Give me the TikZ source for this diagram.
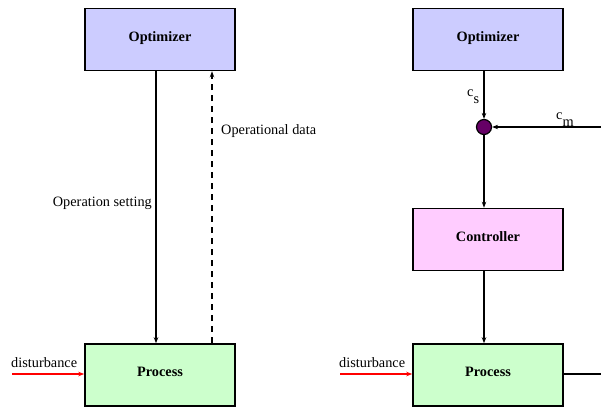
\documentclass[tikz,border=0pt]{standalone}
\usepackage{fontspec}
\setmainfont{Liberation Serif}
\usetikzlibrary{arrows.meta}
\definecolor{optfill}{HTML}{CCCCFF}
\definecolor{ctrlfill}{HTML}{FFCCFF}
\definecolor{procfill}{HTML}{CCFFCC}
\definecolor{junfill}{HTML}{660066}
\newcommand{\blocktext}[1]{\raisebox{5.5pt}{#1}}
\begin{document}
\begin{tikzpicture}[x=1pt,y=-1pt,
  blockbox/.style={draw=black,line width=1.6pt,minimum width=150pt,minimum height=62pt,
    font=\fontsize{14.3}{16}\selectfont\bfseries,inner sep=0pt},
  lbl/.style={font=\fontsize{14.3}{16}\selectfont,inner sep=1pt},
  arr/.style={line width=1.2pt,-{Stealth[length=6pt,width=4.5pt]}},
  plain/.style={line width=1.2pt},
  distarr/.style={line width=1.2pt,red,-{Stealth[length=6pt,width=4.5pt]}}]
\useasboundingbox (0,0) rectangle (601,407);

% left loop: optimizer above process
\node[blockbox,fill=optfill] (optL) at (160,39.5) {\blocktext{Optimizer}};
\node[blockbox,fill=procfill] (procL) at (160,375) {\blocktext{Process}};
\coordinate (setX) at (156,0);
\coordinate (datX) at (212,0);
\draw[arr] (optL.south -| setX) -- (procL.north -| setX);
\draw[arr,dashed,dash pattern=on 6pt off 5pt] (procL.north -| datX) -- (optL.south -| datX);
\node[lbl,anchor=east] (setlbl) at (153,203) {Operation setting};
\node[lbl,anchor=west] (datlbl) at (220,131) {Operational data};
\coordinate (dinL) at (12,374);
\draw[distarr] (dinL) -- (procL.west |- dinL);
\node[lbl,anchor=south west] (distL) at (10,369) {disturbance};

% right loop: optimizer, summing junction, controller, process
\node[blockbox,fill=optfill] (optR) at (488,39.5) {\blocktext{Optimizer}};
\node[circle,draw=black,line width=1.2pt,fill=junfill,minimum size=15pt,inner sep=0pt] (jun) at (484,127) {};
\node[blockbox,fill=ctrlfill] (ctrl) at (488,239.5) {\blocktext{Controller}};
\node[blockbox,fill=procfill] (procR) at (488,375) {\blocktext{Process}};
\draw[arr] (optR.south -| jun) -- (jun.north);
\draw[arr] (jun.south) -- (ctrl.north -| jun);
\draw[arr] (ctrl.south -| jun) -- (procR.north -| jun);
\coordinate (outR) at (601,374);
\coordinate (inR) at (601,127);
\draw[plain] (procR.east |- outR) -- (outR);
\draw[arr] (inR) -- (jun.east);
\node[lbl,anchor=base west] (cs) at (466,96) {c\raisebox{-7pt}{s}};
\node[lbl,anchor=base west] (cm) at (555,119) {c\raisebox{-7pt}{m}};
\coordinate (dinR) at (340,374);
\draw[distarr] (dinR) -- (procR.west |- dinR);
\node[lbl,anchor=south west] (distR) at (338,369) {disturbance};
\end{tikzpicture}
\end{document}
